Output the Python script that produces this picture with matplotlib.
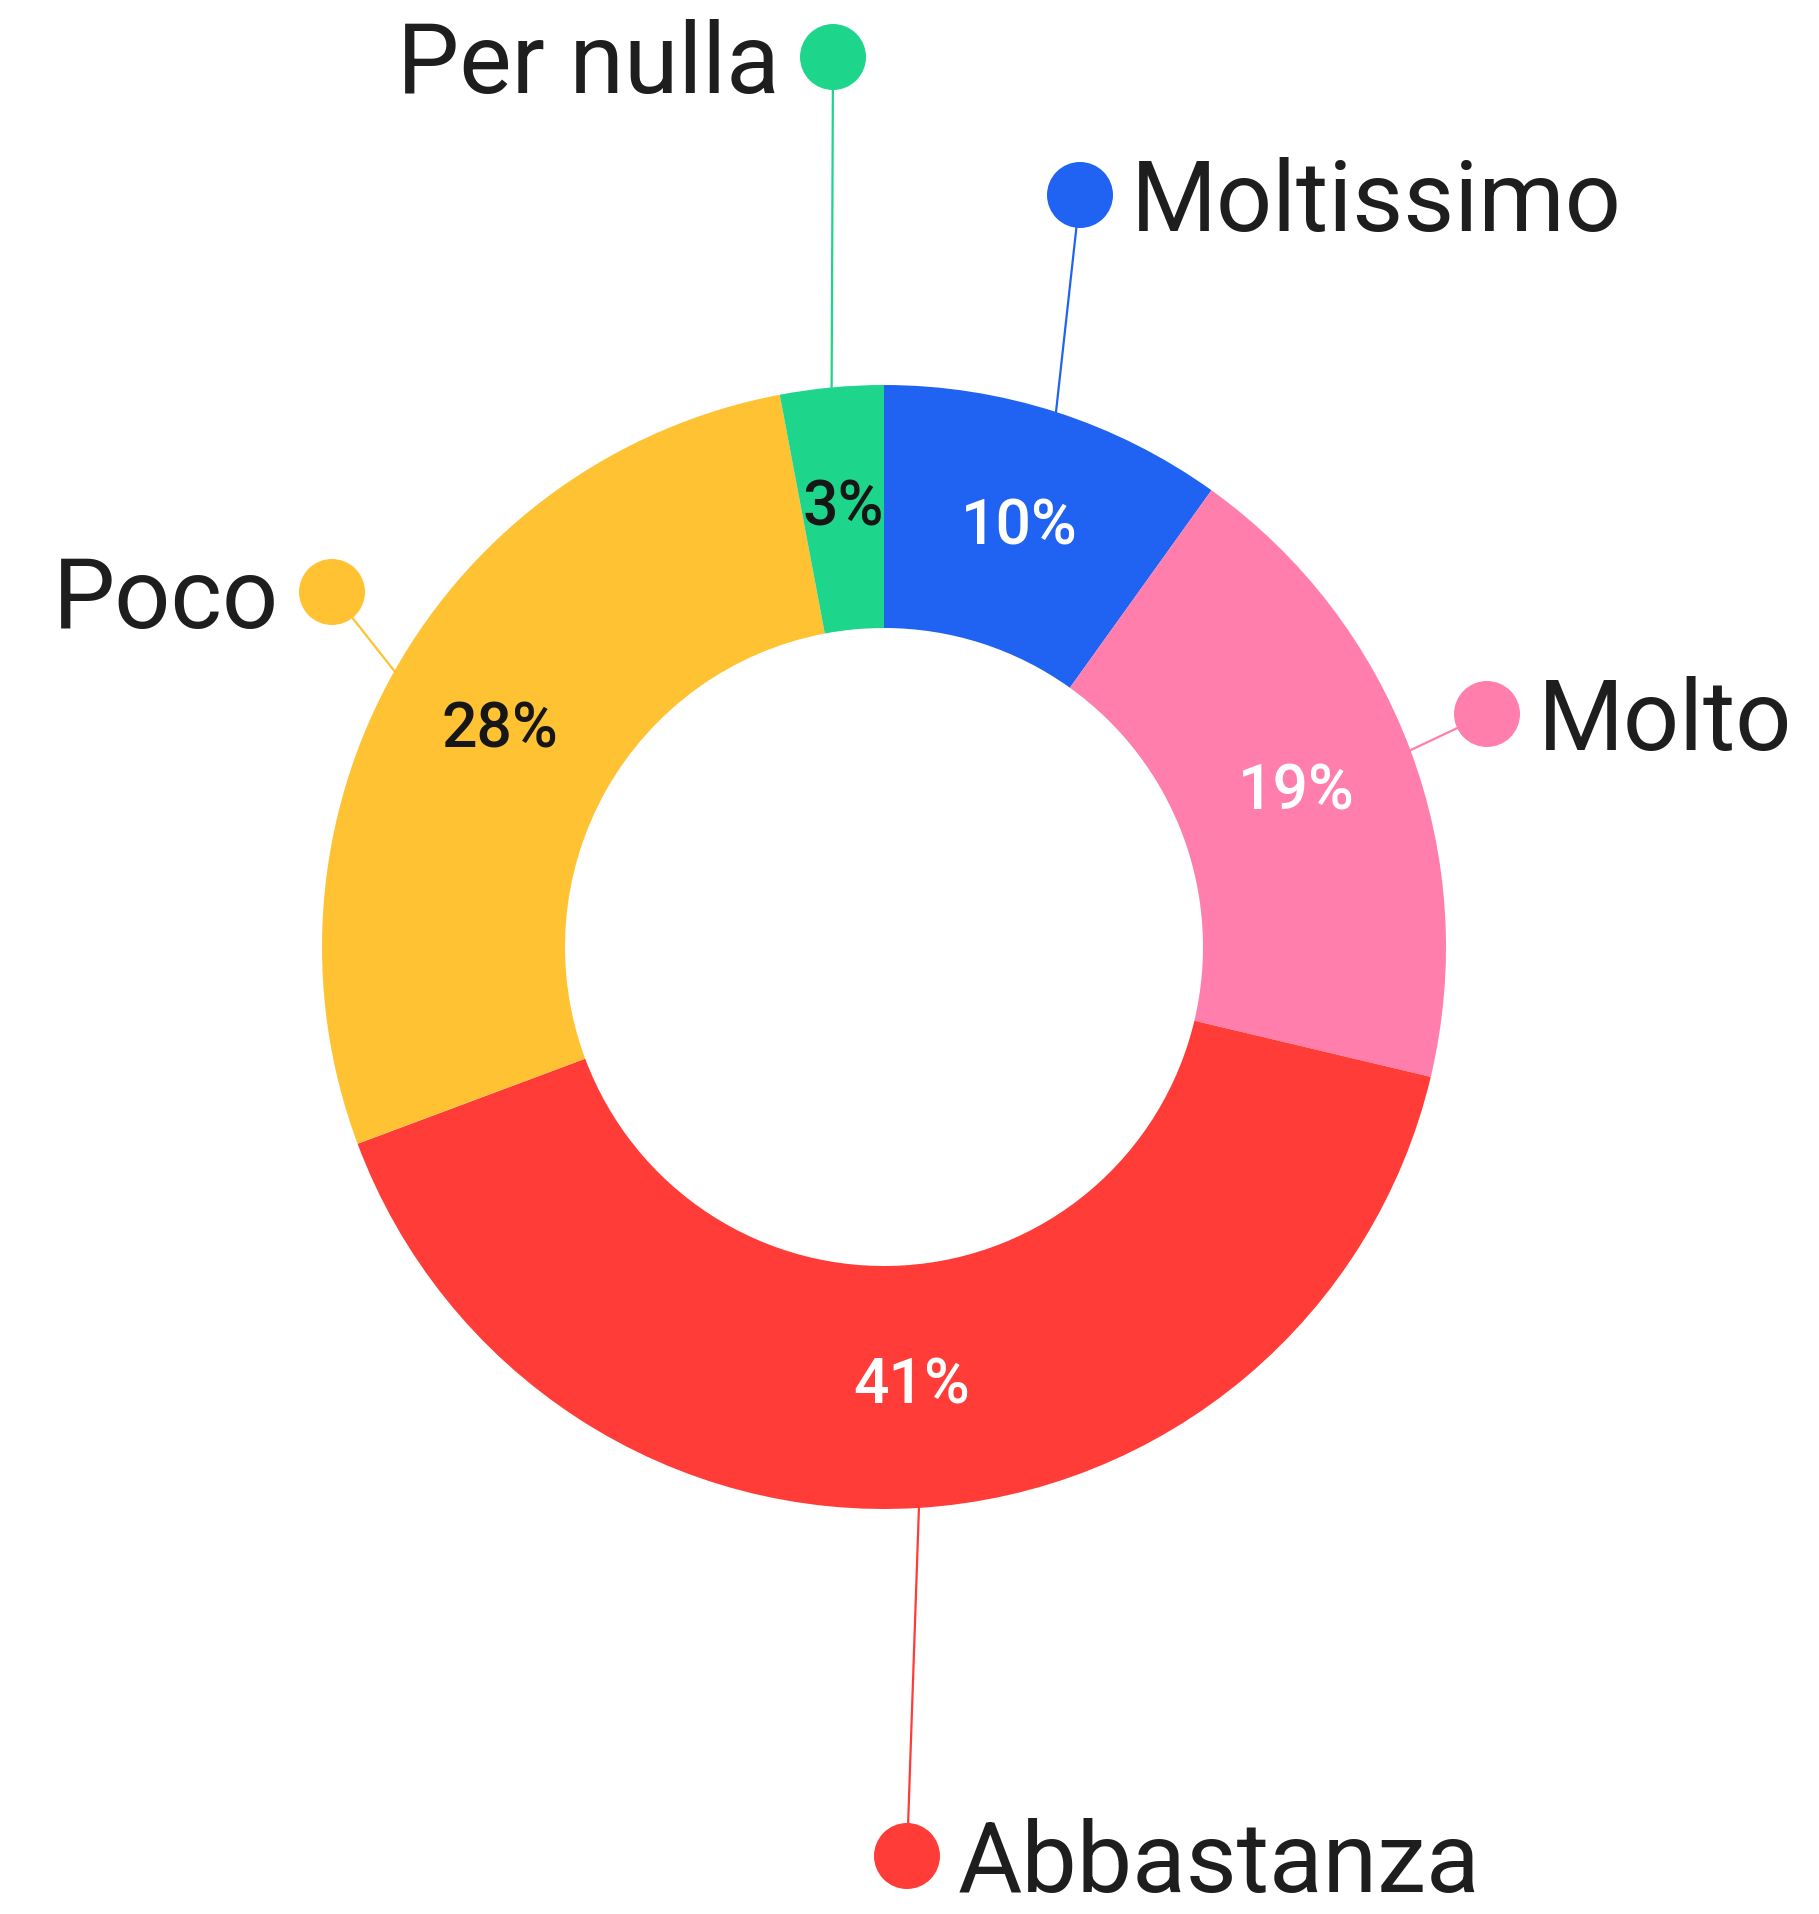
import numpy as np
import matplotlib
matplotlib.use('Agg')
import matplotlib.pyplot as plt
from matplotlib.patches import Circle

# data
categories = ['Moltissimo', 'Molto', 'Abbastanza', 'Poco', 'Per nulla']
percent = [10, 19, 41, 28, 3]

# styles / layout
colors = ['#2063f3', '#ff7eab', '#ff3c38', '#fec233', '#1dd58b']
pct_colors = ['white', 'white', 'white', '#161616', '#161616']
W, H = 1819, 1914
cx, cy = 884, 967
R_out, R_in = 562, 319
# label dot positions, pixels from the top-left corner
dot_px = [(1080, 195), (1487, 714), (907, 1856), (332, 592), (833, 57)]
text_side = ['right', 'right', 'right', 'left', 'left']
dot_size = 33

plt.rcParams['font.family'] = ['Roboto', 'DejaVu Sans']

fig = plt.figure(figsize=(W / 100, H / 100), dpi=100)
fig.patch.set_facecolor('white')
ax = fig.add_axes([0, 0, 1, 1])

wedges, _ = ax.pie(percent, colors=colors, startangle=90, counterclock=False,
                   center=(cx, cy), radius=R_out,
                   wedgeprops=dict(width=R_out - R_in, linewidth=0))

R_mid = (R_out + R_in) / 2
for i, w in enumerate(wedges):
    ang = np.deg2rad((w.theta1 + w.theta2) / 2)
    ux, uy = np.cos(ang), np.sin(ang)

    # percentage inside the ring
    ax.text(cx + R_mid * ux, cy + R_mid * uy, '{}%'.format(percent[i]),
            ha='center', va='center', fontsize=45, fontweight='medium',
            color=pct_colors[i])

    # leader line + dot
    ex, ey = cx + R_out * ux, cy + R_out * uy
    dx, dy = dot_px[i][0], H - dot_px[i][1]
    ax.plot([ex, dx], [ey, dy], color=colors[i], lw=1.6, zorder=3)
    ax.add_patch(Circle((dx, dy), dot_size, facecolor=colors[i], edgecolor='none', zorder=4))

    # category label
    if text_side[i] == 'right':
        ax.text(dx + dot_size + 18, dy - 36, categories[i], ha='left', va='baseline',
                fontsize=71, color='#1e1e1e')
    else:
        ax.text(dx - dot_size - 20, dy - 36, categories[i], ha='right', va='baseline',
                fontsize=71, color='#1e1e1e')

ax.set_xlim(0, W)
ax.set_ylim(0, H)
ax.set_aspect('equal')
ax.axis('off')

plt.savefig('out.png', dpi=100, facecolor='white')
